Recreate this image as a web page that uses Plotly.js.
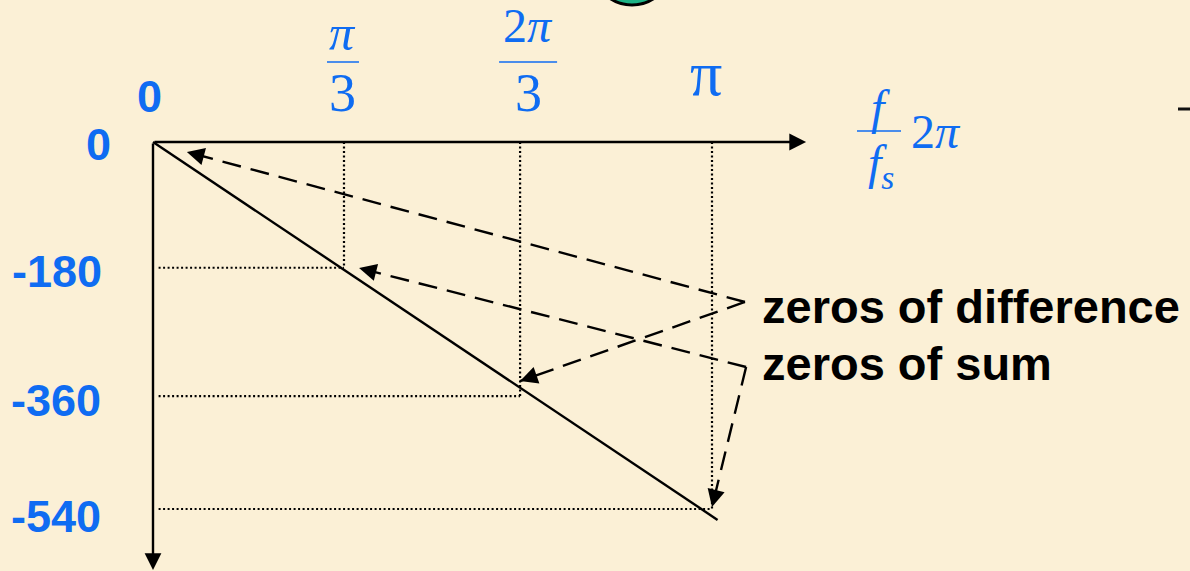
<!DOCTYPE html>
<html>
<head>
<meta charset="utf-8">
<script src="https://cdn.plot.ly/plotly-3.0.1.min.js"></script>
<style>html,body{margin:0;padding:0;background:#FBF0D6;}#chart{width:1190px;height:571px;}</style>
</head>
<body>
<div id="chart"></div>
<script>
// ---- data (x in units of pi/3, y in degrees; positions) ----
const zeroFreqs   = [1.025, 1.97, 3.0];        // pi/3, 2pi/3, pi
const zeroPhases  = [-185, -374, -540];        // phase at those frequencies
const yTickText   = ['0', '-180', '-360', '-540'];
const yTickVals   = [0, -185, -374, -540];
const phaseLineX  = [0, 3.03];
const phaseLineY  = [0, -556];
const diffVertex  = [3.177, -235.4];
const diffTargetX = [0.182, 1.970];
const diffTargetY = [-14.7, -351.7];
const sumVertex   = [3.183, -331.1];
const sumTargetX  = [1.106, 3.0];
const sumTargetY  = [-185.4, -537.1];
const xAxisEnd    = 3.505;
const yAxisEnd    = -629.8;

const XR = [-0.8211, 5.5653], YR = [-631.2, 208.9];
const W = 1190, H = 571;
const pxX = W / (XR[1] - XR[0]), pxY = H / (YR[1] - YR[0]);

const BLUE = '#0F6CF2';
const LW = 2.4;
const traces = [];
// phase line
traces.push({x: phaseLineX, y: phaseLineY, mode: 'lines', line: {color: '#000', width: LW}, hoverinfo: 'skip'});
// dotted guides
zeroFreqs.forEach((f, i) => {
  traces.push({x: [f, f], y: [0, zeroPhases[i]], mode: 'lines', line: {color: '#000', width: 2.2, dash: '2px,2.5px'}, hoverinfo: 'skip'});
  traces.push({x: [0.03, f], y: [zeroPhases[i], zeroPhases[i]], mode: 'lines', line: {color: '#000', width: 2.2, dash: '2px,2.5px'}, hoverinfo: 'skip'});
});
// dashed pointer lines
const arrows = [];
function dashed(v, tx, ty) {
  tx.forEach((x, i) => {
    traces.push({x: [v[0], x], y: [v[1], ty[i]], mode: 'lines', line: {color: '#000', width: LW, dash: '19px,10px'}, hoverinfo: 'skip'});
    const dx = (v[0] - x) * pxX, dy = -(v[1] - ty[i]) * pxY;
    const L = Math.hypot(dx, dy);
    arrows.push({x: x, y: ty[i], ax: dx / L * 18, ay: dy / L * 18, axref: 'pixel', ayref: 'pixel',
      text: '', showarrow: true, arrowhead: 2, arrowsize: 1.45, arrowwidth: LW, arrowcolor: '#000'});
  });
}
dashed(diffVertex, diffTargetX, diffTargetY);
dashed(sumVertex, sumTargetX, sumTargetY);

const ann = [];
// axes as arrows
ann.push({x: xAxisEnd, y: 0, ax: 0, ay: 0, axref: 'x', ayref: 'y', text: '', showarrow: true, arrowhead: 2, arrowsize: 1.4, arrowwidth: LW, arrowcolor: '#000'});
ann.push({x: 0, y: yAxisEnd, ax: 0, ay: 0, axref: 'x', ayref: 'y', text: '', showarrow: true, arrowhead: 2, arrowsize: 1.4, arrowwidth: LW, arrowcolor: '#000'});
arrows.forEach(a => ann.push(a));

const boldBlue = {family: 'Liberation Sans, Arial, sans-serif', size: 45, color: BLUE, weight: 'bold'};
// x-axis "0"
ann.push({x: 0, y: 0, xshift: -4, yshift: 45, text: '0', showarrow: false, font: boldBlue});
// y tick labels
const yShiftX = [-40, -49, -50, -50];
const yShiftY = [-3, -4, -4, -7];
yTickText.forEach((t, i) => ann.push({x: 0, y: yTickVals[i], xanchor: 'right', yanchor: 'middle', xshift: yShiftX[i], yshift: yShiftY[i], text: t, showarrow: false, font: boldBlue}));

// fraction tick labels
const serif = (s) => ({family: 'Liberation Serif, Times New Roman, serif', size: s, color: BLUE});
const fracNum = ['<i>π</i>', '2<i>π</i>'];
const fracShift = [-1, 8];
const shapes = [];
fracNum.forEach((n, i) => {
  const f = zeroFreqs[i];
  ann.push({x: f, y: 0, xshift: fracShift[i], yshift: (i === 0 ? 109 : 116), text: n, showarrow: false, font: serif(i === 0 ? 50 : 48)});
  ann.push({x: f, y: 0, xshift: fracShift[i], yshift: 49, text: '3', showarrow: false, font: serif(54)});
  shapes.push({type: 'line', xref: 'x', yref: 'y', xsizemode: 'pixel', ysizemode: 'pixel',
    xanchor: f, yanchor: 0, x0: fracShift[i] - (i === 0 ? 16 : 29), x1: fracShift[i] + (i === 0 ? 16 : 29), y0: 80, y1: 80,
    line: {color: BLUE, width: 1.5}});
});
ann.push({x: zeroFreqs[2], y: 0, xshift: -6, yshift: 68, text: 'π', showarrow: false, font: serif(64)});

// axis title f/fs 2π
const P = (px, py) => ({x: px / W, y: 1 - py / H, xanchor: 'center', yanchor: 'middle'});
ann.push(Object.assign({xref: 'paper', yref: 'paper', text: '<i>f</i>', showarrow: false, font: serif(48)}, P(880, 108)));
ann.push(Object.assign({xref: 'paper', yref: 'paper', text: '<i>f<sub>s</sub></i>', showarrow: false, font: serif(48)}, P(881, 166)));
ann.push(Object.assign({xref: 'paper', yref: 'paper', text: '2<i>π</i>', showarrow: false, font: serif(48)}, P(936, 131)));
shapes.push({type: 'line', xref: 'paper', yref: 'paper', x0: 857 / W, x1: 901 / W, y0: 1 - 131 / H, y1: 1 - 131 / H, line: {color: BLUE, width: 1.5}});

// legend-like text
const txt = {family: 'Liberation Sans, Arial, sans-serif', size: 47, color: '#000', weight: 'bold'};
ann.push(Object.assign({xref: 'paper', yref: 'paper', text: 'zeros of difference', showarrow: false, font: txt}, P(760, 306), {xanchor: 'left'}));
ann.push(Object.assign({xref: 'paper', yref: 'paper', text: 'zeros of sum', showarrow: false, font: txt}, P(760, 363), {xanchor: 'left'}));

// decorations: green circle top, short line top-right
shapes.push({type: 'circle', xref: 'paper', yref: 'paper', x0: 592 / W, x1: 672 / W, y0: 1 - 5 / H, y1: 1 + 76 / H,
  fillcolor: '#1DB386', line: {color: '#000', width: 3}});
shapes.push({type: 'line', xref: 'paper', yref: 'paper', x0: 1178 / W, x1: 1, y0: 1 - 109 / H, y1: 1 - 109 / H, line: {color: '#111', width: 3}});

const layout = {
  width: W, height: H,
  margin: {l: 0, r: 0, t: 0, b: 0},
  paper_bgcolor: '#FBF0D6', plot_bgcolor: 'rgba(0,0,0,0)',
  showlegend: false,
  xaxis: {range: XR, visible: false, fixedrange: true},
  yaxis: {range: YR, visible: false, fixedrange: true},
  annotations: ann,
  shapes: shapes
};
Plotly.newPlot('chart', traces, layout, {displayModeBar: false, staticPlot: true});
</script>
</body>
</html>
